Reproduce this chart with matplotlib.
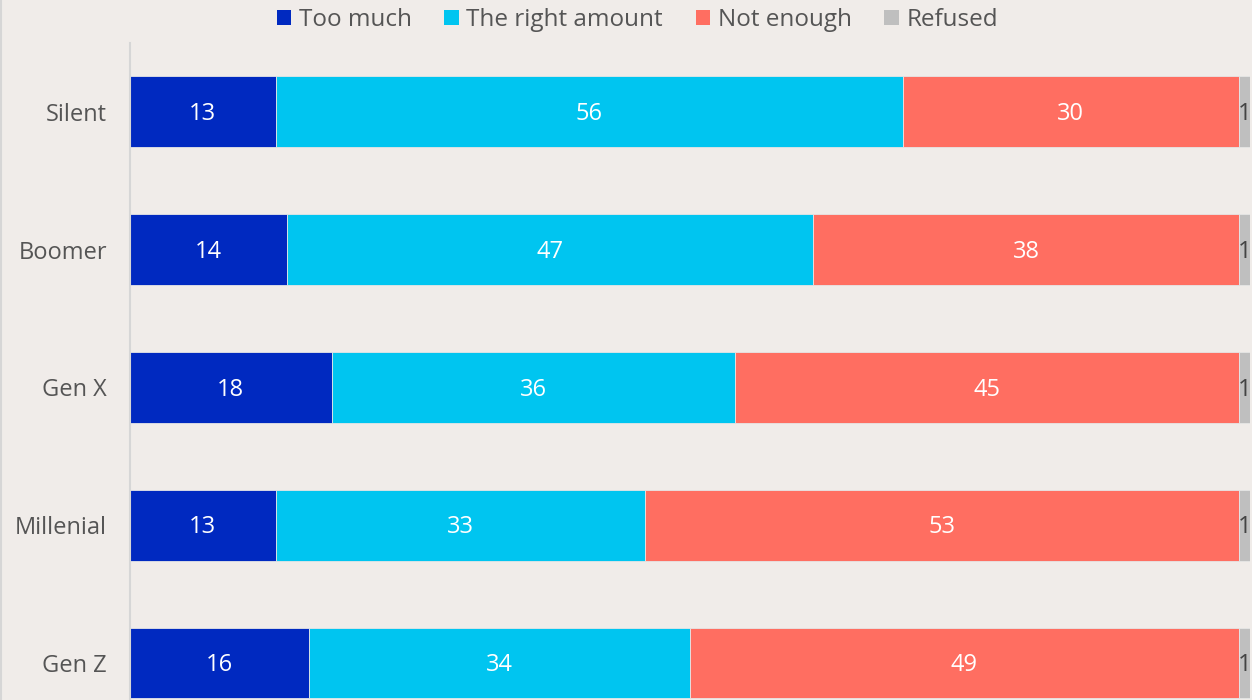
import matplotlib
matplotlib.use("Agg")
import matplotlib.pyplot as plt
import numpy as np

# data
groups = ["Silent", "Boomer", "Gen X", "Millenial", "Gen Z"]
series = ["Too much", "The right amount", "Not enough", "Refused"]
too_much = [13, 14, 18, 13, 16]
right_amount = [56, 47, 36, 33, 34]
not_enough = [30, 38, 45, 53, 49]
refused = [1, 1, 1, 1, 1]

colors = ["#0029c0", "#00c5f0", "#ff6e61", "#bfbfbf"]
label_colors = ["white", "white", "white", "#444444"]
bg = "#f0ece9"

plt.rcParams["font.family"] = ["Open Sans", "DejaVu Sans"]

fig = plt.figure(figsize=(12.52, 7.0), dpi=100, facecolor=bg)
ax = fig.add_axes([130 / 1252, 0.0, 1120 / 1252, 657 / 700])
ax.set_facecolor(bg)

y = np.arange(len(groups))
left = np.zeros(len(groups))
for vals, name, col, lc in zip([too_much, right_amount, not_enough, refused],
                               series, colors, label_colors):
    vals = np.array(vals, dtype=float)
    ax.barh(y, vals, left=left, height=0.515, color=col, label=name,
            edgecolor="#e6e6e6", linewidth=0.6)
    for yi, l, v in zip(y, left, vals):
        ax.text(l + v / 2, yi + 0.015, f"{v:g}", ha="center", va="center",
                color=lc, fontsize=17, clip_on=False)
    left += vals

ax.set_xlim(0, 100)
ax.set_ylim(4 + 37 / 137.75, -0.5)
ax.set_yticks(y)
ax.set_yticklabels(groups, fontsize=17, color="#555555")
ax.tick_params(axis="y", length=0, pad=16.5)
ax.set_xticks([])
for s in ["top", "right", "bottom"]:
    ax.spines[s].set_visible(False)
ax.spines["left"].set_color("#d6d6d6")
ax.spines["left"].set_linewidth(1.5)

# thin border at left edge of figure
fig.add_artist(plt.Line2D([0.001, 0.001], [0, 1], color="#d6d6d6", lw=1.5,
                          transform=fig.transFigure))

leg = fig.legend(loc="upper center", bbox_to_anchor=(0.509, 1.02), ncol=4,
                 frameon=False, fontsize=17.5, handlelength=0.6, handleheight=0.6,
                 handletextpad=0.3, columnspacing=1.35, labelcolor="#555555")
for h in leg.legend_handles:
    h.set_linewidth(0)

fig.savefig("out.png", dpi=100, facecolor=bg)
